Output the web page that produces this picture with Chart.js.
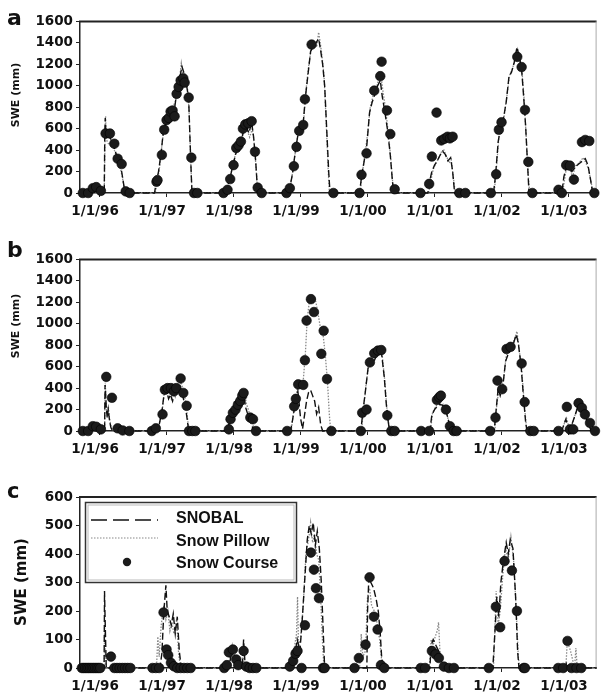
<!DOCTYPE html>
<html><head><meta charset="utf-8">
<script src="https://cdn.jsdelivr.net/npm/chart.js@4.4.1/dist/chart.umd.min.js"></script>
<style>
html,body{margin:0;padding:0;background:#fff;}
#wrap{position:relative;width:602px;height:698px;overflow:hidden;background:#fff;}
canvas{position:absolute;left:0;}
</style></head><body>
<div id="wrap">
<canvas id="ca" width="602" height="230" style="top:0px"></canvas>
<canvas id="cb" width="602" height="230" style="top:238px"></canvas>
<canvas id="cc" width="602" height="222" style="top:476px"></canvas>
</div>
<script>
// ---- tick labels / axis ranges ----
const yearTicks = [1996,1997,1998,1999,2000,2001,2002,2003];
const yTicksAB = [0,200,400,600,800,1000,1200,1400,1600];
const yTicksC = [0,100,200,300,400,500,600];
const xMin = 1995.708, xMax = 2003.419;
const seriesNames = ['SNOBAL','Snow Pillow','Snow Course'];
const yTitle = 'SWE (mm)';

// ---- panel a ----
const aSnobal = [[1995.708,0],[1995.87,0],[1995.92,45],[1996.0,40],[1996.05,10],[1996.07,0],[1996.078,560],[1996.085,700],[1996.095,560],[1996.13,540],[1996.17,500],[1996.21,440],[1996.25,360],[1996.29,300],[1996.33,200],[1996.36,80],[1996.38,0],
[1996.82,0],[1996.85,110],[1996.88,200],[1996.92,380],[1996.95,560],[1996.99,660],[1997.03,730],[1997.07,780],[1997.11,740],[1997.15,930],[1997.19,1050],[1997.23,1180],[1997.26,1120],[1997.3,1000],[1997.33,880],[1997.35,500],[1997.37,150],[1997.38,0],
[1997.86,0],[1997.9,40],[1997.94,120],[1997.98,230],[1998.03,360],[1998.07,430],[1998.11,470],[1998.15,580],[1998.19,620],[1998.23,560],[1998.27,660],[1998.3,520],[1998.33,300],[1998.35,100],[1998.37,0],
[1998.8,0],[1998.84,50],[1998.88,180],[1998.92,380],[1998.96,540],[1999.0,610],[1999.04,650],[1999.07,880],[1999.11,1100],[1999.15,1320],[1999.19,1370],[1999.23,1400],[1999.27,1440],[1999.3,1330],[1999.33,1200],[1999.36,1000],[1999.39,600],[1999.42,200],[1999.44,0],
[1999.88,0],[1999.91,150],[1999.95,300],[1999.99,450],[2000.03,750],[2000.07,850],[2000.11,920],[2000.15,1000],[2000.19,1050],[2000.22,900],[2000.26,750],[2000.3,580],[2000.34,350],[2000.37,120],[2000.39,0],
[2000.9,0],[2000.93,120],[2000.96,200],[2001.0,260],[2001.04,300],[2001.08,350],[2001.12,390],[2001.16,360],[2001.2,300],[2001.24,330],[2001.27,200],[2001.3,0],
[2001.88,0],[2001.91,160],[2001.95,480],[2001.99,620],[2002.03,700],[2002.07,850],[2002.11,1080],[2002.15,1130],[2002.19,1220],[2002.23,1360],[2002.27,1260],[2002.3,1150],[2002.33,900],[2002.36,620],[2002.39,250],[2002.41,0],
[2002.9,0],[2002.93,150],[2002.97,250],[2003.01,240],[2003.05,200],[2003.09,230],[2003.13,260],[2003.17,280],[2003.21,300],[2003.25,320],[2003.29,260],[2003.33,120],[2003.36,0],[2003.419,0]];
const aPillow = [[1995.708,0],[1996.07,0],[1996.08,450],[1996.09,720],[1996.1,500],[1996.14,450],[1996.18,480],[1996.22,400],[1996.26,330],[1996.3,260],[1996.34,150],[1996.37,30],[1996.39,0],
[1996.83,0],[1996.86,90],[1996.9,260],[1996.94,500],[1996.97,620],[1997.01,690],[1997.05,760],[1997.09,800],[1997.13,850],[1997.17,990],[1997.2,1100],[1997.22,1210],[1997.25,1080],[1997.28,1050],[1997.32,950],[1997.34,700],[1997.36,300],[1997.38,0],
[1997.87,0],[1997.92,60],[1997.96,180],[1998.0,280],[1998.04,400],[1998.08,450],[1998.12,520],[1998.16,610],[1998.2,590],[1998.24,520],[1998.28,600],[1998.31,450],[1998.34,200],[1998.36,0],
[1998.81,0],[1998.85,70],[1998.89,230],[1998.93,420],[1998.97,580],[1999.01,640],[1999.05,700],[1999.08,950],[1999.12,1180],[1999.16,1350],[1999.2,1400],[1999.24,1360],[1999.27,1500],[1999.29,1420],[1999.32,1280],[1999.35,1100],[1999.38,700],[1999.41,250],[1999.43,0],
[1999.89,0],[1999.92,180],[1999.96,350],[2000.0,550],[2000.04,800],[2000.08,900],[2000.12,950],[2000.16,1050],[2000.2,1100],[2000.23,950],[2000.27,780],[2000.31,560],[2000.35,300],[2000.38,60],[2000.4,0],
[2000.91,0],[2000.94,100],[2000.98,220],[2001.02,280],[2001.06,320],[2001.1,380],[2001.14,400],[2001.18,340],[2001.22,280],[2001.25,310],[2001.28,150],[2001.31,0],
[2001.89,0],[2001.92,200],[2001.96,520],[2002.0,600],[2002.04,720],[2002.08,900],[2002.12,1100],[2002.16,1150],[2002.2,1250],[2002.24,1340],[2002.28,1220],[2002.31,1100],[2002.34,850],[2002.37,500],[2002.4,150],[2002.42,0],
[2002.91,0],[2002.94,120],[2002.98,280],[2003.02,220],[2003.06,150],[2003.1,250],[2003.14,270],[2003.18,300],[2003.22,330],[2003.26,280],[2003.3,220],[2003.34,90],[2003.37,0],[2003.419,0]];
const aCourse = [[1995.75,0],[1995.83,0],[1995.9,45],[1995.95,55],[1996.02,20],
[1996.09,555],[1996.155,555],[1996.22,460],[1996.27,320],[1996.33,270],[1996.39,15],[1996.45,0],
[1996.85,105],[1996.865,120],[1996.93,355],[1996.965,590],[1997.0,680],[1997.035,700],[1997.06,760],[1997.09,770],[1997.12,715],[1997.15,925],[1997.18,990],[1997.21,1050],[1997.25,1070],[1997.27,1030],[1997.33,890],[1997.37,330],[1997.41,0],[1997.46,0],
[1997.85,0],[1997.91,30],[1997.95,130],[1998.0,260],[1998.04,420],[1998.075,445],[1998.11,480],[1998.14,600],[1998.175,640],[1998.22,650],[1998.27,670],[1998.32,385],[1998.36,50],[1998.42,0],
[1998.79,0],[1998.84,45],[1998.9,250],[1998.94,430],[1998.98,580],[1999.04,635],[1999.065,875],[1999.165,1385],[1999.49,0],
[1999.88,0],[1999.91,170],[1999.985,370],[2000.1,955],[2000.19,1090],[2000.21,1225],[2000.29,770],[2000.34,550],[2000.405,35],
[2000.79,0],[2000.92,85],[2000.96,340],[2001.03,750],[2001.1,490],[2001.145,505],[2001.195,525],[2001.23,510],[2001.27,525],[2001.37,0],[2001.46,0],
[2001.84,0],[2001.92,175],[2001.96,590],[2002.0,660],[2002.235,1270],[2002.3,1175],[2002.35,775],[2002.4,290],[2002.46,0],
[2002.85,30],[2002.9,0],[2002.965,260],[2003.02,255],[2003.08,125],[2003.2,475],[2003.25,495],[2003.31,485],[2003.385,0]];

// ---- panel b ----
const bSnobal = [[1995.708,0],[1995.87,0],[1995.92,40],[1996.0,35],[1996.06,0],[1996.075,0],[1996.082,430],[1996.09,350],[1996.1,220],[1996.115,120],[1996.13,200],[1996.15,90],[1996.17,30],[1996.2,0],
[1996.86,0],[1996.89,60],[1996.93,180],[1996.96,330],[1997.0,380],[1997.03,300],[1997.06,340],[1997.09,280],[1997.12,360],[1997.16,390],[1997.2,420],[1997.24,330],[1997.28,230],[1997.31,100],[1997.33,0],
[1997.9,0],[1997.93,60],[1997.97,140],[1998.01,180],[1998.05,230],[1998.09,260],[1998.12,300],[1998.15,340],[1998.18,220],[1998.21,160],[1998.24,100],[1998.27,60],[1998.3,0],
[1998.85,0],[1998.88,100],[1998.91,220],[1998.94,300],[1998.96,370],[1998.98,250],[1999.0,120],[1999.03,20],[1999.06,150],[1999.09,280],[1999.12,360],[1999.15,380],[1999.18,330],[1999.21,280],[1999.24,160],[1999.27,220],[1999.3,60],[1999.33,0],
[1999.9,0],[1999.93,180],[1999.97,380],[2000.01,600],[2000.05,660],[2000.09,640],[2000.13,700],[2000.17,740],[2000.21,720],[2000.25,500],[2000.28,250],[2000.31,80],[2000.33,0],
[2000.93,0],[2000.96,150],[2001.0,200],[2001.04,230],[2001.08,250],[2001.12,240],[2001.16,210],[2001.2,120],[2001.23,40],[2001.25,0],
[2001.89,0],[2001.92,200],[2001.95,400],[2001.98,330],[2002.02,420],[2002.06,650],[2002.1,720],[2002.14,780],[2002.18,820],[2002.22,900],[2002.25,820],[2002.29,620],[2002.33,300],[2002.36,80],[2002.38,0],
[2002.9,0],[2002.93,60],[2002.96,110],[2002.99,40],[2003.02,20],[2003.06,80],[2003.1,150],[2003.14,230],[2003.18,200],[2003.22,160],[2003.26,120],[2003.3,60],[2003.34,0],[2003.419,0]];
const bPillow = [[1995.708,0],[1996.075,0],[1996.085,450],[1996.095,300],[1996.11,180],[1996.13,230],[1996.15,110],[1996.18,20],[1996.21,0],
[1996.87,0],[1996.9,90],[1996.94,220],[1996.97,380],[1997.01,420],[1997.04,350],[1997.07,300],[1997.1,380],[1997.13,320],[1997.17,410],[1997.21,460],[1997.25,380],[1997.29,260],[1997.32,80],[1997.34,0],
[1997.91,0],[1997.94,90],[1997.98,170],[1998.02,200],[1998.06,250],[1998.1,290],[1998.13,330],[1998.16,380],[1998.19,260],[1998.22,200],[1998.25,140],[1998.28,90],[1998.31,0],
[1998.86,0],[1998.89,150],[1998.92,260],[1998.95,400],[1998.98,440],[1999.01,430],[1999.04,470],[1999.07,700],[1999.1,1050],[1999.13,1200],[1999.16,1260],[1999.19,1200],[1999.22,1230],[1999.26,1100],[1999.3,950],[1999.34,880],[1999.37,700],[1999.4,480],[1999.43,150],[1999.45,0],
[1999.91,0],[1999.94,200],[1999.98,450],[2000.02,620],[2000.06,700],[2000.1,680],[2000.14,730],[2000.18,770],[2000.22,700],[2000.26,450],[2000.29,200],[2000.32,50],[2000.34,0],
[2000.94,0],[2000.97,170],[2001.01,220],[2001.05,260],[2001.09,240],[2001.13,250],[2001.17,200],[2001.21,90],[2001.24,20],[2001.26,0],
[2001.9,0],[2001.93,250],[2001.96,380],[2001.99,350],[2002.03,480],[2002.07,700],[2002.11,760],[2002.15,800],[2002.19,850],[2002.23,930],[2002.26,780],[2002.3,580],[2002.34,250],[2002.37,50],[2002.39,0],
[2002.91,0],[2002.94,80],[2002.97,120],[2003.0,50],[2003.04,30],[2003.08,110],[2003.12,200],[2003.16,260],[2003.2,220],[2003.24,180],[2003.28,130],[2003.32,50],[2003.35,0],[2003.419,0]];
const bCourse = [[1995.75,0],[1995.83,0],[1995.9,45],[1995.95,40],[1996.02,15],[1996.1,505],[1996.185,310],[1996.27,25],[1996.345,5],[1996.445,0],
[1996.78,0],[1996.84,25],[1996.94,155],[1996.975,385],[1997.015,400],[1997.065,400],[1997.11,370],[1997.145,400],[1997.21,490],[1997.25,355],[1997.3,235],[1997.335,0],[1997.385,0],[1997.43,0],
[1997.93,15],[1997.955,110],[1997.99,170],[1998.03,200],[1998.065,245],[1998.1,280],[1998.13,330],[1998.15,355],[1998.25,125],[1998.29,110],[1998.335,0],
[1998.8,0],[1998.905,230],[1998.93,300],[1998.965,435],[1999.04,430],[1999.065,660],[1999.09,1030],[1999.155,1230],[1999.2,1110],[1999.31,720],[1999.345,935],[1999.395,485],[1999.46,0],
[1999.9,0],[1999.92,170],[1999.985,200],[2000.035,640],[2000.1,725],[2000.155,750],[2000.205,755],[2000.295,145],[2000.355,0],[2000.405,0],
[2000.8,0],[2000.92,0],[2001.035,290],[2001.07,315],[2001.095,330],[2001.17,200],[2001.23,45],[2001.285,0],[2001.33,0],
[2001.83,0],[2001.91,125],[2001.94,470],[2002.01,390],[2002.075,765],[2002.135,785],[2002.3,630],[2002.345,270],[2002.43,0],[2002.48,0],
[2002.85,0],[2002.975,225],[2003.02,15],[2003.07,15],[2003.15,260],[2003.2,215],[2003.245,155],[2003.32,75],[2003.395,0]];

// ---- panel c ----
const cSnobal = [[1995.708,0],[1996.068,0],[1996.074,270],[1996.08,200],[1996.09,100],[1996.1,0],
[1996.9,0],[1996.93,50],[1996.96,200],[1996.99,290],[1997.01,200],[1997.04,180],[1997.07,150],[1997.1,190],[1997.13,120],[1997.16,180],[1997.19,60],[1997.22,0],
[1997.93,0],[1997.96,40],[1997.99,70],[1998.02,40],[1998.05,10],[1998.08,0],[1998.13,0],[1998.15,100],[1998.17,20],[1998.19,0],
[1998.88,0],[1998.91,40],[1998.95,100],[1998.99,60],[1999.02,150],[1999.06,300],[1999.1,450],[1999.13,500],[1999.16,470],[1999.19,510],[1999.22,430],[1999.25,480],[1999.28,420],[1999.31,300],[1999.34,120],[1999.36,0],
[1999.99,0],[2000.0,200],[2000.02,320],[2000.05,300],[2000.09,280],[2000.13,240],[2000.16,200],[2000.19,120],[2000.21,40],[2000.23,0],
[2000.93,0],[2000.95,80],[2000.98,100],[2001.02,80],[2001.06,60],[2001.1,40],[2001.13,0],
[2001.87,0],[2001.9,120],[2001.93,250],[2001.96,180],[2001.99,300],[2002.03,380],[2002.07,440],[2002.1,400],[2002.13,450],[2002.17,420],[2002.21,250],[2002.24,60],[2002.26,0],
[2002.95,0],[2002.97,20],[2002.99,0],[2003.419,0]];
const cPillow = [[1995.708,0],[1996.07,0],[1996.075,150],[1996.085,60],[1996.1,0],
[1996.85,0],[1996.87,110],[1996.89,40],[1996.92,150],[1996.96,220],[1996.99,170],[1997.02,200],[1997.05,130],[1997.08,160],[1997.11,120],[1997.15,170],[1997.18,50],[1997.21,0],
[1997.92,0],[1997.95,50],[1997.98,80],[1998.01,30],[1998.04,0],[1998.12,0],[1998.14,60],[1998.16,0],
[1998.86,0],[1998.9,60],[1998.94,120],[1998.955,250],[1998.97,80],[1999.0,100],[1999.04,220],[1999.08,400],[1999.12,450],[1999.15,510],[1999.18,440],[1999.21,470],[1999.24,400],[1999.27,380],[1999.3,250],[1999.33,80],[1999.35,0],
[1999.88,0],[1999.9,60],[1999.905,120],[1999.93,40],[1999.97,60],[2000.0,250],[2000.03,280],[2000.06,220],[2000.1,200],[2000.14,160],[2000.18,100],[2000.21,30],[2000.23,0],
[2000.92,0],[2000.95,100],[2000.98,80],[2001.01,110],[2001.04,130],[2001.06,160],[2001.08,60],[2001.11,20],[2001.13,0],
[2001.88,0],[2001.91,200],[2001.92,270],[2001.95,150],[2001.98,200],[2002.02,330],[2002.06,420],[2002.1,380],[2002.14,460],[2002.18,380],[2002.22,200],[2002.25,40],[2002.27,0],
[2002.96,0],[2002.98,90],[2003.0,80],[2003.03,60],[2003.06,30],[2003.09,0],[2003.11,70],[2003.13,0],[2003.419,0]];
const cCourse = [[1995.735,0],[1995.76,0],[1995.785,0],[1995.81,0],[1995.835,0],[1995.86,0],[1995.885,0],[1995.91,0],[1995.935,0],[1995.96,0],[1995.985,0],[1996.01,0],
[1996.17,40],[1996.22,0],[1996.26,0],[1996.3,0],[1996.34,0],[1996.38,0],[1996.42,0],[1996.46,0],
[1996.79,0],[1996.84,0],[1996.89,0],[1996.955,195],[1997.0,65],[1997.025,45],[1997.065,18],[1997.11,6],[1997.16,0],[1997.21,0],[1997.26,0],[1997.31,0],[1997.36,0],
[1997.86,0],[1997.9,10],[1997.93,55],[1997.99,65],[1998.04,30],[1998.07,10],[1998.15,60],[1998.19,5],[1998.24,0],[1998.29,0],[1998.34,0],
[1998.84,5],[1998.89,25],[1998.925,50],[1998.955,60],[1999.015,0],[1999.065,150],[1999.155,405],[1999.2,345],[1999.23,280],[1999.275,245],[1999.335,0],[1999.36,0],
[1999.805,0],[1999.87,35],[1999.97,82],[2000.03,318],[2000.095,180],[2000.15,135],[2000.2,10],[2000.25,0],
[2000.795,0],[2000.86,0],[2000.96,60],[2001.015,48],[2001.065,35],[2001.14,5],[2001.215,0],[2001.29,0],
[2001.81,0],[2001.915,215],[2001.98,143],[2002.045,375],[2002.155,342],[2002.23,200],[2002.33,0],[2002.35,0],
[2002.846,0],[2002.92,0],[2002.985,95],[2003.045,0],[2003.12,0],[2003.19,0]];

// ---- helpers ----
function pts(arr){ return arr.map(p => ({x:p[0], y:p[1]})); }
function yearLabel(v){ return '1/1/' + String(Math.round(v) % 100).padStart(2,'0'); }
const tickFont = {family:'DejaVu Sans', weight:'bold', size:13.5};

const framePlugin = {
  id:'panelFrame',
  beforeDatasetsDraw(chart){
    const {ctx, chartArea:{left, top, right, bottom}} = chart;
    ctx.save();
    ctx.strokeStyle = '#222'; ctx.lineWidth = 2;
    ctx.beginPath(); ctx.moveTo(left - 1, top); ctx.lineTo(right, top); ctx.stroke();
    ctx.strokeStyle = '#aaa'; ctx.lineWidth = 1;
    ctx.beginPath(); ctx.moveTo(right - 0.5, top); ctx.lineTo(right - 0.5, bottom); ctx.stroke();
    ctx.restore();
  },
  afterDraw(chart, args, o){
    const ctx = chart.ctx;
    ctx.save();
    ctx.fillStyle = '#111';
    ctx.font = 'bold ' + o.size + 'px "DejaVu Sans"';
    ctx.textBaseline = 'alphabetic'; ctx.textAlign = 'left';
    ctx.fillText(o.letter, 7, o.y);
    ctx.translate(o.titleX, o.titleY);
    ctx.rotate(-Math.PI / 2);
    ctx.font = o.titleFont;
    ctx.textAlign = 'center'; ctx.textBaseline = 'middle';
    ctx.fillText(yTitle, 0, 0);
    ctx.restore();
  }
};

const legendPlugin = {
  id:'snowLegend',
  afterDatasetsDraw(chart, args, o){
    if (!o.show) return;
    const ctx = chart.ctx;
    const ds = chart.data.datasets;
    ctx.save();
    ctx.fillStyle = '#fff';
    ctx.fillRect(85.5, 26.5, 211, 80);
    ctx.strokeStyle = '#333'; ctx.lineWidth = 1.5;
    ctx.strokeRect(85.5, 26.5, 211, 80);
    ctx.strokeStyle = '#bbb'; ctx.lineWidth = 1;
    ctx.strokeRect(88, 29, 206, 75);
    ctx.strokeStyle = ds[1].borderColor; ctx.lineWidth = 1.4; ctx.setLineDash([16,6]);
    ctx.beginPath(); ctx.moveTo(91, 44); ctx.lineTo(158, 44); ctx.stroke();
    ctx.strokeStyle = ds[2].borderColor; ctx.lineWidth = 1.2; ctx.setLineDash([1.5,1.5]);
    ctx.beginPath(); ctx.moveTo(91, 62); ctx.lineTo(158, 62); ctx.stroke();
    ctx.setLineDash([]);
    ctx.fillStyle = '#1b1b1b';
    ctx.beginPath(); ctx.arc(127, 86, 4.2, 0, Math.PI*2); ctx.fill();
    ctx.fillStyle = '#111';
    ctx.font = 'bold 16px "Liberation Sans"';
    ctx.textBaseline = 'middle'; ctx.textAlign = 'left';
    ctx.fillText(ds[1].label, 176, 43);
    ctx.fillText(ds[2].label, 176, 66);
    ctx.fillText(ds[0].label, 176, 88);
    ctx.restore();
  }
};

function panel(id, o){
  return new Chart(document.getElementById(id), {
    type:'scatter',
    data:{datasets:[
      {label:seriesNames[2], data:pts(o.course), showLine:false, pointRadius:4.8, pointHoverRadius:4.8,
       pointBackgroundColor:'#1b1b1b', pointBorderColor:'#000', pointBorderWidth:0.6, order:0, clip:false},
      {label:seriesNames[0], data:pts(o.snobal), showLine:true, borderColor:'#111', borderWidth:1.4,
       borderDash:[7,3], pointRadius:0, pointHoverRadius:0, order:1, clip:false, tension:0},
      {label:seriesNames[1], data:pts(o.pillow), showLine:true, borderColor:'#888', borderWidth:1.3,
       borderDash:[1.5,1.5], pointRadius:0, pointHoverRadius:0, order:2, clip:false, tension:0}
    ]},
    options:{
      responsive:false, animation:false, devicePixelRatio:1,
      events:[],
      layout:{padding:{top:o.padTop, right:2, left:0, bottom:0}},
      plugins:{
        legend:{display:false}, tooltip:{enabled:false},
        panelFrame:{letter:o.letter, y:o.letterY, size:o.letterSize, titleX:o.titleX, titleY:o.titleY, titleFont:o.titleFont},
        snowLegend:{show:!!o.legend}
      },
      scales:{
        x:{type:'linear', min:xMin, max:xMax,
           afterBuildTicks:(s)=>{ s.ticks = yearTicks.map(v=>({value:v})); },
           afterFit:(s)=>{ s.height = o.xH; },
           ticks:{callback:(v)=>yearLabel(v), font:tickFont, color:'#111', padding:6, labelOffset:-4.5,
                  maxRotation:0, minRotation:0, autoSkip:false},
           grid:{drawOnChartArea:false, drawTicks:true, tickLength:4, color:'#222', lineWidth:1},
           border:{display:true, color:'#222', width:1.5}},
        y:{type:'linear', min:0, max:o.yMax,
           afterBuildTicks:(s)=>{ s.ticks = o.yTicks.map(v=>({value:v})); },
           afterFit:(s)=>{ s.width = 80; },
           ticks:{font:tickFont, color:'#111', padding:3, callback:(v)=>String(v)},
           grid:{drawOnChartArea:false, drawTicks:true, tickLength:4, color:'#222', lineWidth:1},
           border:{display:true, color:'#222', width:1.5},
           title:{display:false}}
      }
    },
    plugins:[framePlugin, legendPlugin]
  });
}

panel('ca', {snobal:aSnobal, pillow:aPillow, course:aCourse, yMax:1600, yTicks:yTicksAB, padTop:21.5, xH:37,
  letter:'a', letterY:25, letterSize:22, titleFont:'bold 11px "DejaVu Sans"', titleX:16, titleY:95});
panel('cb', {snobal:bSnobal, pillow:bPillow, course:bCourse, yMax:1600, yTicks:yTicksAB, padTop:21.5, xH:37,
  letter:'b', letterY:19, letterSize:22, titleFont:'bold 11px "DejaVu Sans"', titleX:16, titleY:88});
panel('cc', {snobal:cSnobal, pillow:cPillow, course:cCourse, yMax:600, yTicks:yTicksC, padTop:21, xH:30,
  letter:'c', letterY:22, letterSize:21, titleFont:'bold 15px "DejaVu Sans"', titleX:22, titleY:106, legend:true});
</script>
</body></html>
